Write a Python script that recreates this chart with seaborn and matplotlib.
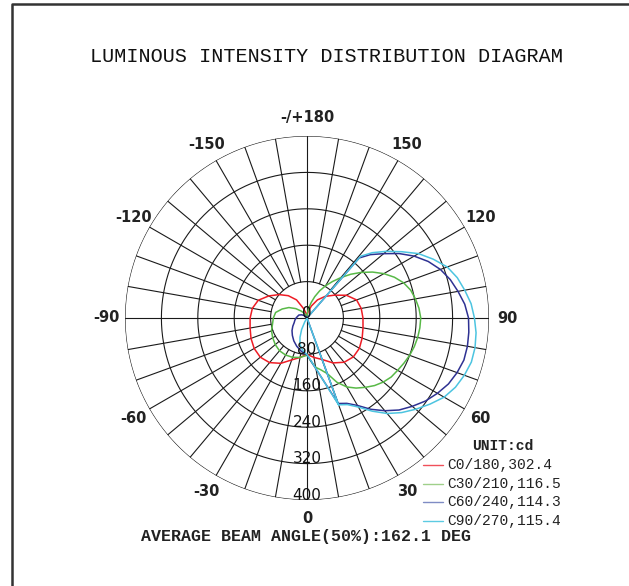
import numpy as np
import matplotlib
matplotlib.use("Agg")
import matplotlib.pyplot as plt
import seaborn as sns
from matplotlib.lines import Line2D

# gamma angle (deg) / intensity (cd) for each C-plane
c0_ang = [0, 10, 20, 30, 40, 50, 60, 70, 80, 90, 100, 110, 120, 130, 140, 150, 160, 170, 180]
c0_cd = [80, 88, 97, 114, 127, 133, 133, 129, 125, 123, 121, 116, 100, 78, 62, 46, 28, 14, 5]
c180_ang = [-180, -170, -160, -150, -140, -130, -120, -110, -100, -90, -80, -70, -60, -50, -40, -30, -20, -10, 0]
c180_cd = [5, 10, 22, 46, 64, 80, 97, 114, 122, 125, 127, 131, 134, 134, 128, 115, 98, 88, 80]

c30_ang = [0, 5, 10, 15, 20, 25, 30, 35, 40, 45, 50, 55, 60, 65, 70, 75, 80, 85, 90,
           95, 100, 105, 110, 115, 120, 125, 130, 135, 140, 145, 150, 155, 160, 165, 170, 175, 180]
c30_cd = [80, 95, 110, 118, 130, 156, 175, 188, 199, 210, 219, 226, 230, 235, 240, 244, 247, 249, 250,
          247, 242, 236, 226, 212, 195, 176, 156, 136, 116, 98, 82, 66, 50, 35, 22, 12, 5]
c210_ang = [-180, -170, -160, -150, -140, -130, -120, -110, -100, -90, -80, -70, -60, -50, -40, -30, -20, -10, 0]
c210_cd = [0, 3, 6, 12, 20, 32, 46, 58, 70, 74, 77, 83, 87, 91, 94, 94, 92, 88, 82]

c60_ang = [20, 25, 30, 35, 40, 45, 50, 55, 60, 65, 70, 75, 80, 85, 90, 95, 100, 105, 110, 115, 120, 125, 130, 135, 139]
c60_cd = [200, 207, 222, 245, 266, 286, 302, 318, 331, 343, 351, 357, 358, 357, 355, 348, 337, 326, 312, 294, 272, 247, 220, 197, 175]
c240_ang = [-180, -170, -160, -150, -140, -130, -120, -110, -100, -90, -80, -70, -60, -50, -40, -30, -20, -10, 0]
c240_cd = [0, 0, 0, 2, 5, 9, 14, 19, 21, 24, 27, 30, 36, 43, 50, 58, 66, 74, 81]

c90_ang = [20, 25, 30, 35, 40, 45, 50, 55, 60, 65, 70, 75, 80, 85, 90, 95, 100, 105, 110, 115, 120, 125, 130, 135, 139]
c90_cd = [203, 210, 226, 250, 274, 294, 312, 330, 348, 360, 368, 374, 375, 373, 368, 362, 352, 342, 328, 306, 283, 254, 228, 203, 180]
c270_ang = [-35, -30, -25, -20, -15, -10, -5, 0]
c270_cd = [0, 10, 28, 45, 60, 68, 75, 80]

legend_labels = ["C0/180,302.4", "C30/210,116.5", "C60/240,114.3", "C90/270,115.4"]
colors = ["#ee1c25", "#58b947", "#2e3192", "#4cc4e0"]
legend_colors = ["#f0505a", "#9fd08a", "#7f8cc4", "#5ccbe2"]

ring_values = [80, 160, 240, 320, 400]
angle_ticks = [0, 30, 60, 90, 120, 150, 180, -150, -120, -90, -60, -30]
angle_labels = ["0", "30", "60", "90", "120", "150", "-/+180", "-150", "-120", "-90", "-60", "-30"]

W, H = 629, 586
sns.set_style("white")
fig = plt.figure(figsize=(W / 100, H / 100), dpi=100)

cx, cy, R = 307, 318, 182
ax = fig.add_axes([(cx - R) / W, (H - cy - R) / H, 2 * R / W, 2 * R / H], projection="polar")
ax.set_theta_zero_location("S")
ax.set_theta_direction(1)
ax.set_ylim(0, 400)
ax.set_axis_off()

grid_kw = dict(color="#1a1a1a", lw=0.8, zorder=1)
tt = np.linspace(0, 2 * np.pi, 721)
for rv in ring_values:
    ax.plot(tt, np.full_like(tt, rv), **grid_kw)
for a in range(0, 360, 10):
    r0 = 0 if a % 90 == 0 else ring_values[0]
    ax.plot([np.deg2rad(a)] * 2, [r0, 400], **grid_kw)


def draw(theta, r, color):
    sns.lineplot(x=np.deg2rad(theta), y=r, sort=False, estimator=None,
                 color=color, lw=1.1, ax=ax, zorder=3)


# red: C0 right, C180 left
draw(c0_ang + c180_ang, c0_cd + c180_cd, colors[0])
# green: C30 right, C210 left
draw(c30_ang + c210_ang, c30_cd + c210_cd, colors[1])
# blue: C60 lobe with its straight edges to the centre, then C240
draw([c60_ang[0]] + c60_ang + [c60_ang[-1]] + c240_ang + [c60_ang[0]],
     [0] + c60_cd + [0] + c240_cd + [c60_cd[0]], colors[2])
# cyan: C90 lobe, then C270
draw([c90_ang[0]] + c90_ang + [c90_ang[-1]] + c270_ang + [c90_ang[0]],
     [0] + c90_cd + [0] + c270_cd + [c90_cd[0]], colors[3])

# radial labels along the 0 deg direction
for rv in [0] + ring_values:
    ax.annotate(str(rv), xy=(0, rv), xytext=(0, 3.5), textcoords="offset points",
                ha="center", va="center", fontsize=11, color="#111111",
                family="DejaVu Sans", zorder=5)

# angle labels
for a, lbl in zip(angle_ticks, angle_labels):
    ax.text(np.deg2rad(a), 440, lbl, ha="center", va="center", fontsize=10.5,
            fontweight="bold", color="#222222", family="DejaVu Sans")


def fx(x):
    return x / W


def fy(y):
    return 1 - y / H


fig.text(fx(326), fy(57), "LUMINOUS INTENSITY DISTRIBUTION DIAGRAM", ha="center", va="center",
         fontsize=14.5, family="Liberation Mono", color="#111111")
fig.text(fx(306), fy(537), "AVERAGE BEAM ANGLE(50%):162.1 DEG", ha="center", va="center",
         fontsize=12, fontweight="bold", family="Liberation Mono", color="#222222")
fig.text(fx(503), fy(446), "UNIT:cd", ha="center", va="center",
         fontsize=10.5, fontweight="bold", family="Liberation Mono", color="#222222")

for i, (lbl, c) in enumerate(zip(legend_labels, legend_colors)):
    y = 465 + i * 18.6
    fig.add_artist(Line2D([fx(423), fx(443)], [fy(y), fy(y)], color=c, lw=1.0))
    fig.text(fx(447), fy(y), lbl, ha="left", va="center", fontsize=10.5,
             family="Liberation Mono", color="#222222")

# frame
fig.add_artist(Line2D([fx(11.5), fx(11.5), fx(W)], [fy(H), fy(4), fy(4)],
                      color="#333333", lw=1.8))
fig.add_artist(Line2D([fx(560.5), fx(560.5)], [fy(50), fy(62)], color="#888888", lw=1.2))

fig.savefig("out.png", dpi=100)
